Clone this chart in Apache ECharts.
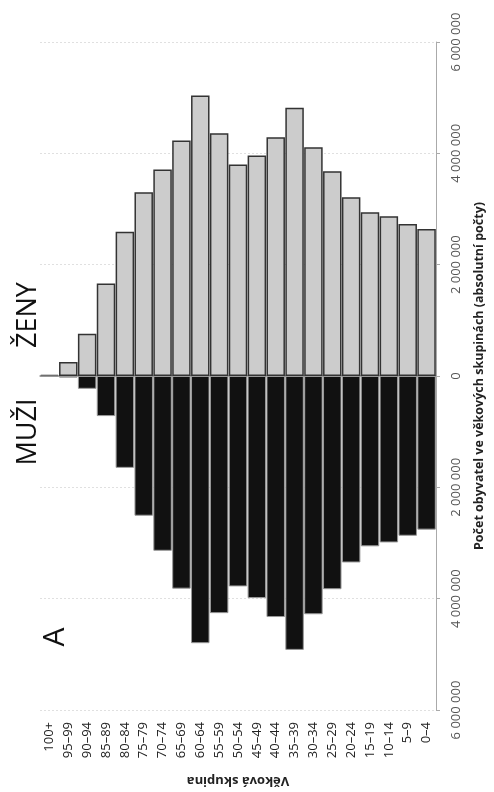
<!DOCTYPE html>
<html>
<head>
<meta charset="utf-8">
<script src="https://cdn.jsdelivr.net/npm/echarts@6/dist/echarts.min.js"></script>
<style>
html,body{margin:0;padding:0;background:#fff;}
#chart{width:494px;height:792px;}
</style>
</head>
<body>
<div id="chart"></div>
<script>
var categories = ['100+','95–99','90–94','85–89','80–84','75–79','70–74','65–69','60–64','55–59','50–54','45–49','40–44','35–39','30–34','25–29','20–24','15–19','10–14','5–9','0–4'];
var zeny = [20000, 250000, 760000, 1660000, 2590000, 3300000, 3710000, 4230000, 5040000, 4360000, 3800000, 3960000, 4290000, 4820000, 4110000, 3680000, 3210000, 2940000, 2870000, 2730000, 2640000];
var muzi = [5000, 30000, 230000, 720000, 1650000, 2510000, 3140000, 3820000, 4800000, 4260000, 3780000, 3990000, 4330000, 4920000, 4280000, 3830000, 3350000, 3060000, 2990000, 2870000, 2760000];
var valueMin = -6000000, valueMax = 6000000, valueStep = 2000000;
var labelZeny = 'ŽENY', labelMuzi = 'MUŽI', panelLabel = 'A';
var xName = 'Věková skupina';
var yName = 'Počet obyvatel ve věkových skupinách (absolutní počty)';

function fmt(v){
  return Math.abs(v).toString().replace(/\B(?=(\d{3})+(?!\d))/g, ' ');
}

var chart = echarts.init(document.getElementById('chart'), null, {renderer:'canvas'});
chart.setOption({
  animation:false,
  backgroundColor:'#fff',
  textStyle:{fontFamily:'Open Sans'},
  grid:{left:40,right:52,top:42,bottom:75,containLabel:false},
  xAxis:[{
    type:'category',
    data:categories,
    position:'bottom',
    axisLine:{show:false,onZero:false},
    axisTick:{show:false},
    axisLabel:{rotate:90,margin:12,fontSize:13,color:'#222',fontFamily:'Open Sans',interval:0},
    name:xName,
    nameLocation:'middle',
    nameRotate:180,
    nameGap:64,
    nameTextStyle:{fontSize:13,fontWeight:'bold',color:'#222',fontFamily:'Open Sans'}
  },{
    type:'category',
    data:categories,
    position:'bottom',
    axisLine:{show:true,onZero:true,lineStyle:{color:'#999',width:1.5}},
    axisTick:{show:false},
    axisLabel:{show:false}
  }],
  yAxis:{
    type:'value',
    position:'right',
    min:valueMin,max:valueMax,interval:valueStep,
    axisLine:{show:true,lineStyle:{color:'#aaa',width:1}},
    axisTick:{show:true,length:4,lineStyle:{color:'#aaa'}},
    axisLabel:{rotate:90,margin:14,fontSize:13,color:'#555',fontFamily:'Open Sans',formatter:fmt},
    splitLine:{show:true,lineStyle:{color:'#e0e0e0',type:[2,2],width:1}},
    name:yName,
    nameLocation:'middle',
    nameRotate:90,
    nameGap:37,
    nameTextStyle:{fontSize:12.5,fontWeight:'bold',color:'#222',fontFamily:'Open Sans'}
  },
  series:[{
    name:'ženy',
    type:'bar',
    data:zeny,
    barCategoryGap:'2%',
    barGap:'-100%',
    itemStyle:{color:'#cccccc',borderColor:'#333',borderWidth:1.5}
  },{
    name:'muži',
    type:'bar',
    data:muzi.map(function(v){return -v;}),
    barCategoryGap:'2%',
    barGap:'-100%',
    itemStyle:{color:'#111111',borderColor:'#999',borderWidth:1}
  }],
  graphic:[
    {type:'text',x:28,y:315,rotation:Math.PI/2,style:{text:labelZeny,font:'27px "Open Sans"',fill:'#111',align:'center',verticalAlign:'middle'}},
    {type:'text',x:28,y:432,rotation:Math.PI/2,style:{text:labelMuzi,font:'27px "Open Sans"',fill:'#111',align:'center',verticalAlign:'middle'}},
    {type:'text',x:55,y:637,rotation:Math.PI/2,style:{text:panelLabel,font:'30px "Open Sans"',fill:'#111',align:'center',verticalAlign:'middle'}}
  ]
});
</script>
</body>
</html>
